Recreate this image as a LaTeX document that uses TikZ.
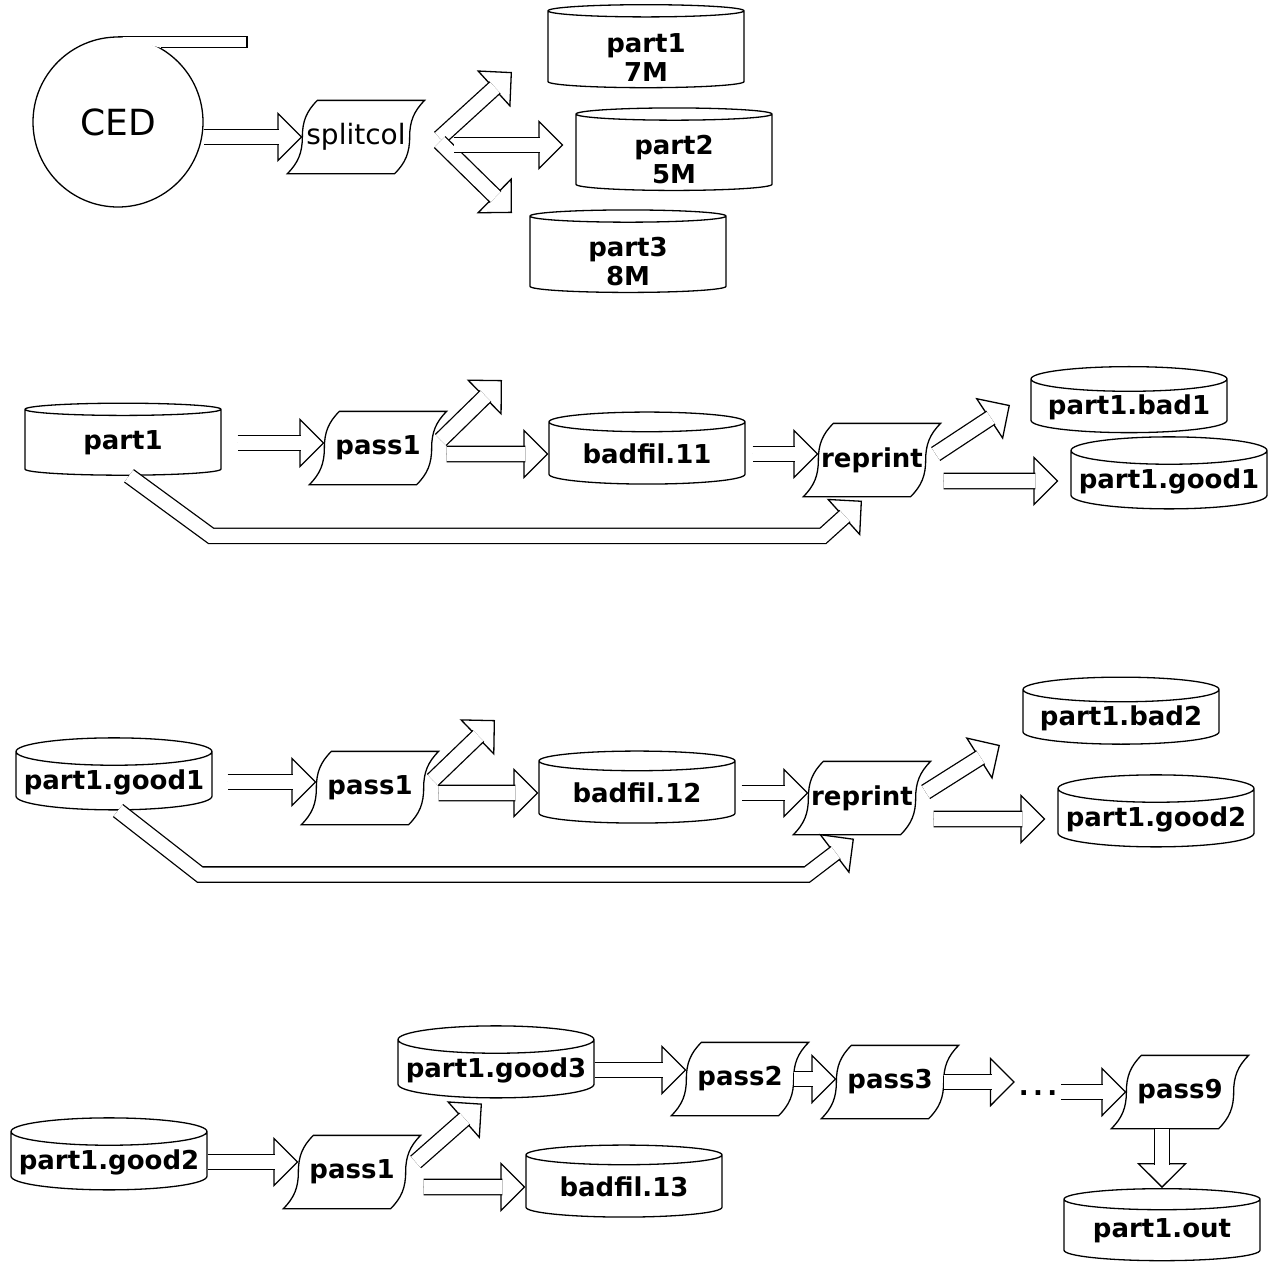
\documentclass[tikz,border=0pt]{standalone}
\usepackage{fontspec}
\setmainfont{DejaVu Sans}
\usetikzlibrary{shapes.geometric,calc,arrows.meta}

\newcommand\lblfont{\fontsize{26}{29}\selectfont\bfseries}
\newcommand\hflow[1]{\draw[tip] #1; \draw[flow] #1;}

\begin{document}
\begin{tikzpicture}[x=1pt,y=1pt,line width=1.3pt,
    db/.style = {cylinder, shape border rotate=90, draw, aspect=0.15,
        minimum width=196pt, minimum height=72pt, inner sep=1pt,
        align=center, font=\lblfont},
    pgm/.style = {minimum width=106pt, minimum height=72pt, inner sep=0pt, font=\lblfont},
    flow/.style = {double, double distance=14pt, shorten >=23pt},
    tip/.style = {-{Triangle[length=25pt, width=50pt, fill=white]}}]
\useasboundingbox (0,0) rectangle (1273,-1269);

\node[circle, draw, minimum size=170pt, font=\fontsize{36}{40}\selectfont] (ced) at (118,-122) {CED};
\fill[white] (ced.north) -- ++(129,0) |- (ced.60) -- cycle;
\draw (ced.north) -- ++(129,0) |- (ced.60);

\node[pgm, font=\fontsize{28}{30}\selectfont] (split) at (356,-137) {splitcol};
\node[db, minimum height=83pt, text height=62pt] (pt1) at (646,-50) {part1\\7M};
\node[db, minimum height=80pt, text height=62pt] (pt2) at (674,-153) {part2\\5M};
\node[db, minimum height=81pt, text height=62pt] (pt3) at (628,-255) {part3\\8M};

\node[db] (p1) at (123,-443) {part1};
\node[pgm] (pa) at (378,-448) {pass1};
\node[db] (bf1) at (647,-454) {badfil.11};
\node[pgm] (ra) at (872,-460) {reprint};
\node[db, minimum height=66pt] (bd1) at (1129,-407) {part1.bad1};
\node[db] (gd1) at (1169,-481) {part1.good1};

\node[db] (g1) at (114,-782) {part1.good1};
\node[pgm] (pb) at (370,-788) {pass1};
\node[db] (bf2) at (637,-793) {badfil.12};
\node[pgm] (rb) at (862,-798) {reprint};
\node[db, minimum height=67pt] (bd2) at (1121,-718) {part1.bad2};
\node[db] (gd2) at (1156,-819) {part1.good2};

\node[db] (gd3) at (496,-1070) {part1.good3};
\node[db] (g2) at (109,-1162) {part1.good2};
\node[pgm] (pc) at (352,-1172) {pass1};
\node[db] (bf3) at (624,-1187) {badfil.13};
\node[pgm] (pd) at (740,-1079) {pass2};
\node[pgm] (pe) at (890,-1082) {pass3};
\node[font=\lblfont] (dots) at (1038,-1093) {.\,.\,.};
\node[pgm] (pf) at (1180,-1092) {pass9};
\node[db] (out) at (1162,-1231) {part1.out};

\foreach \n in {split,pa,ra,pb,rb,pc,pd,pe,pf}
    \draw ([xshift=15pt]\n.north west) -- ([xshift=15pt]\n.north east)
        to[out=-135,in=90] (\n.east) to[out=-90,in=45] ([xshift=-15pt]\n.south east)
        -- ([xshift=-15pt]\n.south west)
        to[out=45,in=-90] (\n.west) to[out=90,in=-135] ([xshift=15pt]\n.north west) -- cycle;

\coordinate (u1) at (512,-72);
\coordinate (d1) at (512,-213);
\coordinate (u2) at (502,-380);
\coordinate (u3) at (1010,-405);
\coordinate (u4) at (495,-720);
\coordinate (u5) at (1000,-745);

\hflow{(ced.east |- split) -- (split)}
\hflow{([shift={(30,-1)}]split.east) -- (u1)}
\hflow{([shift={(30,-5)}]split.east) -- (d1)}
\hflow{([shift={(44,-8)}]split.east) -- ($(split.east -| pt2.west)+(-12,-8)$)}

\hflow{([xshift=16pt]p1.east) -- (p1.east -| pa.west)}
\hflow{([shift={(9,8)}]pa.east) -- (u2)}
\hflow{($(pa.east |- bf1)+(15,0)$) -- (bf1)}
\hflow{([xshift=7pt]bf1.east) -- (bf1.east -| ra.west)}
\hflow{([shift={(10,6)}]ra.east) -- (u3)}
\hflow{($(ra.east |- gd1)+(18,0)$) -- ($(gd1.west)+(-12,0)$)}
\hflow{([xshift=6pt]p1.south) -- ++(82,-60) -- ++(612,0) -- ($(ra.south)+(-10,-4)$)}

\hflow{([xshift=15pt]g1.east) -- (g1.east -| pb.west)}
\hflow{([shift={(9,8)}]pb.east) -- (u4)}
\hflow{($(pb.east |- bf2)+(15,0)$) -- (bf2)}
\hflow{([xshift=6pt]bf2.east) -- (bf2.east -| rb.west)}
\hflow{([shift={(10,6)}]rb.east) -- (u5)}
\hflow{($(rb.east |- gd2)+(18,0)$) -- ($(gd2.west)+(-12,0)$)}
\hflow{([xshift=4pt]g1.south) -- ++(82,-64) -- ++(607,0) -- ($(rb.south)+(-8,-4)$)}

\hflow{(g2.east) -- (g2.east -| pc.west)}
\hflow{([shift={(10,10)}]pc.east) -- ($(gd3.south)+(-14,-5)$)}
\hflow{($(pc.east |- bf3)+(18,0)$) -- (bf3)}
\hflow{(gd3.east) -- (gd3.east -| pd.west)}
\hflow{(pd.east) -- (pd.east -| pe.west)}
\hflow{(pe.east) -- (pe.east -| dots.west)}
\hflow{(dots.east |- pf) -- (pf)}
\hflow{(pf.south -| out) -- (out)}
\end{tikzpicture}
\end{document}
